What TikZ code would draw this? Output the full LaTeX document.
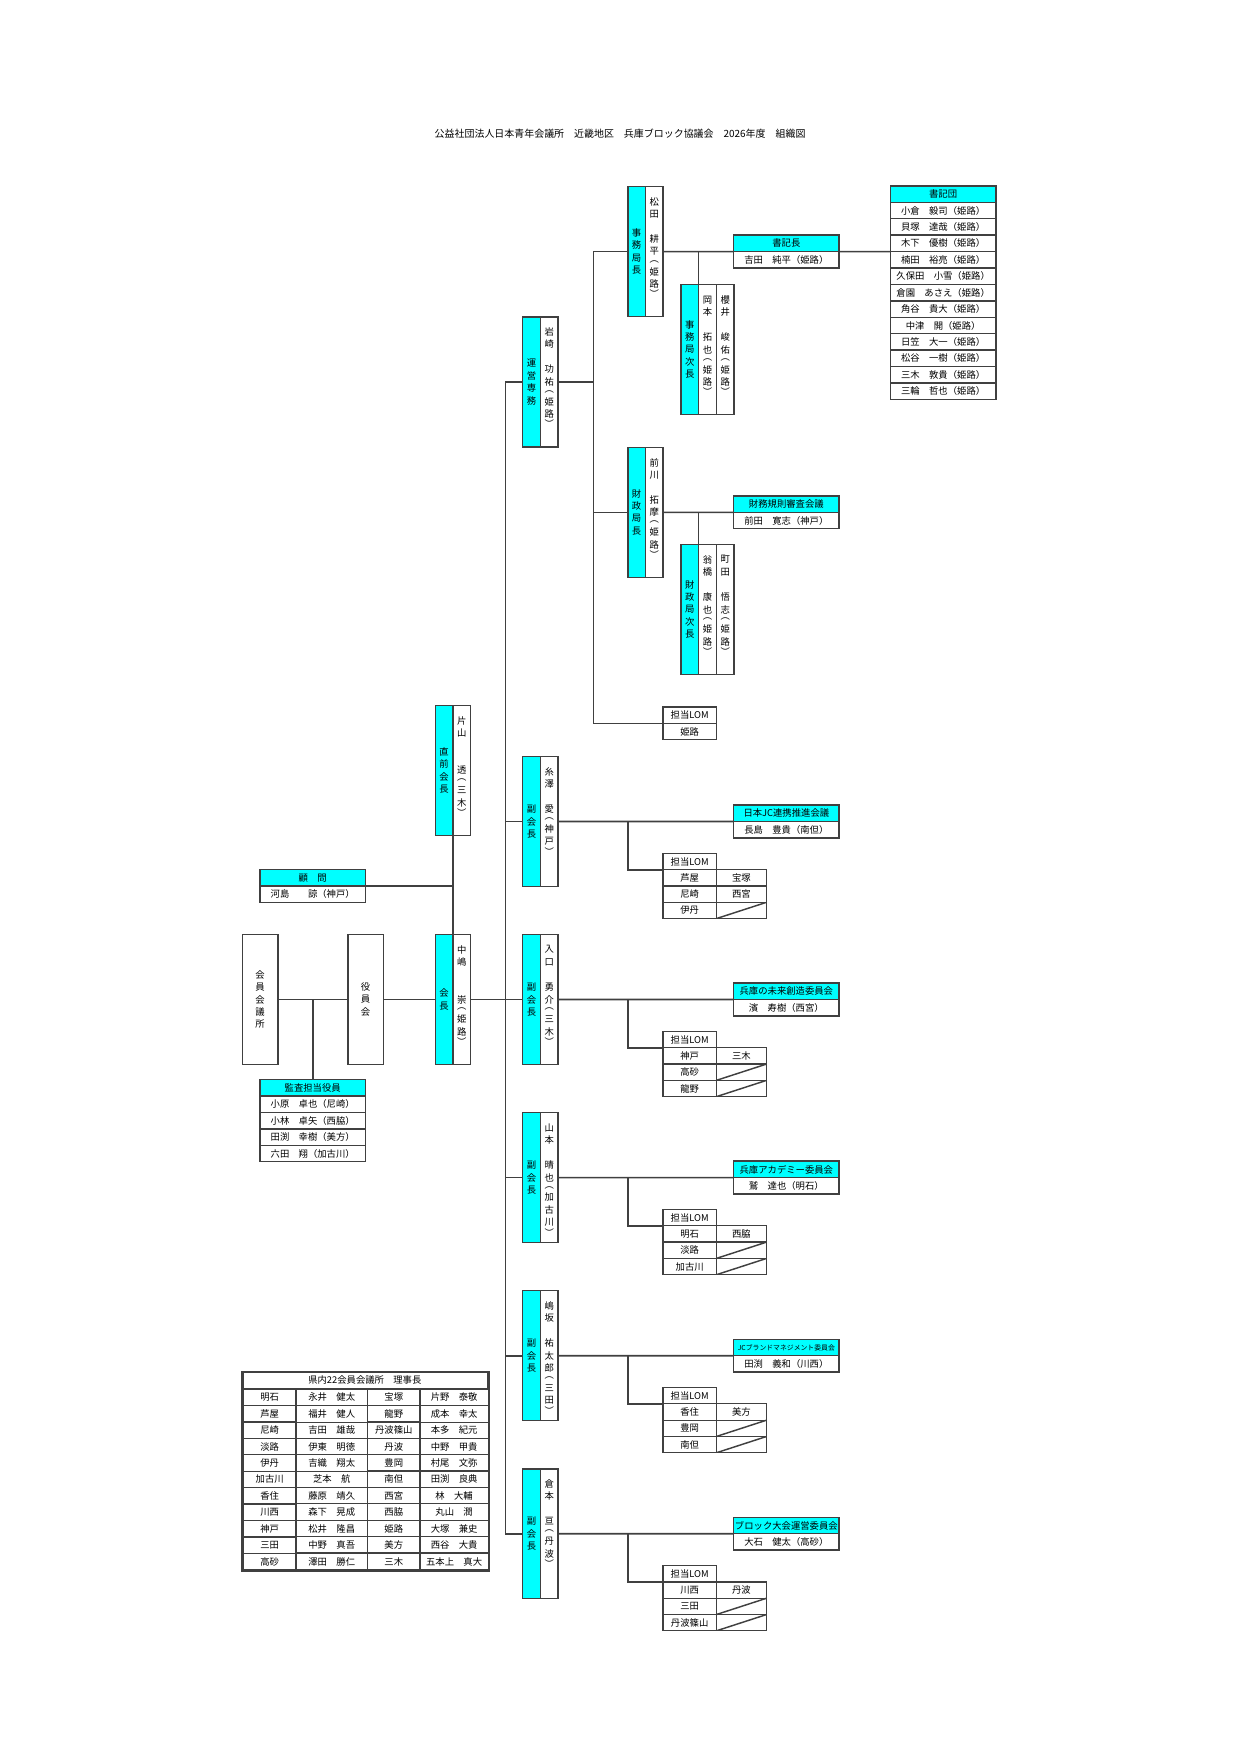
\documentclass[tikz,border=0pt]{standalone}
\usepackage{fontspec}
\setmainfont{Noto Sans CJK JP}
\usetikzlibrary{positioning, matrix}
\definecolor{boxcyan}{RGB}{0,255,255}
\definecolor{linegray}{RGB}{64,64,64}

% vertical (tate) text: one character per slot
\makeatletter
\newlength\tatestep \tatestep=6pt
\newcommand\tate[1]{\vbox{\offinterlineskip\expandafter\tate@i#1\@nil}}
\def\tate@i#1{\ifx\@nil#1\else\tate@box{#1}\expandafter\tate@i\fi}
\def\tate@open{︵}\def\tate@close{︶}
\def\tate@box#1{\def\tate@c{#1}%
  \dimen@=\tatestep
  \ifx\tate@c\tate@open\dimen@=.6\tatestep\fi
  \ifx\tate@c\tate@close\dimen@=.6\tatestep\fi
  \hbox to 6pt{\hss\vbox to\dimen@{\vss\hbox{#1}\vss}\hss}}
\newcommand\tatetop[1]{\vbox to 22mm{\vskip1.5mm\tate{#1}\vss}}
\makeatother

\begin{document}
\begin{tikzpicture}[x=1mm, y=-1mm,
    font=\fontsize{4.5}{5.5}\selectfont,
    lab/.style={draw=linegray, line width=0.7pt, fill=boxcyan, minimum width=3mm, minimum height=22mm, inner sep=0pt, outer sep=0pt},
    nam/.style={lab, fill=white},
    hd/.style={draw=linegray, line width=0.7pt, fill=boxcyan, minimum width=17.9mm, minimum height=2.78mm, inner sep=0pt, outer sep=0pt},
    rw/.style={hd, fill=white},
    cell/.style={draw=linegray, line width=0.6pt, fill=white, minimum height=2.76mm, inner sep=0pt, outer sep=0pt},
    slashline/.style={draw=linegray, line width=0.7pt},
    slash/.style={path picture={\draw[slashline] (path picture bounding box.south west) -- (path picture bounding box.north east);}},
    conn/.style={draw=linegray, line width=0.8pt}]

    \useasboundingbox (0,0) rectangle (210,297);

    % Title
    \node (title) at (105,22.6) {\fontsize{4.8}{5.5}\selectfont 公益社団法人日本青年会議所　近畿地区　兵庫ブロック協議会　2026年度　組織図};

    % 運営専務
    \node[lab] (unei-l) at (90.0,64.65) {\tate{運営専務}};
    \node[nam, right=0pt of unei-l] (unei-n) {\tatetop{岩崎　功祐︵姫路︶}};

    % 事務局長 / 事務局次長
    \node[lab] (jmk-l) at (107.8,42.6) {\tate{事務局長}};
    \node[nam, right=0pt of jmk-l] (jmk-n) {\tatetop{松田　耕平︵姫路︶}};
    \node[lab] (jmkj-l) at (116.8,59.2) {\tate{事務局次長}};
    \node[nam, right=0pt of jmkj-l] (jmkj-a) {\tatetop{岡本　拓也︵姫路︶}};
    \node[nam, right=0pt of jmkj-a] (jmkj-b) {\tatetop{櫻井　峻佑︵姫路︶}};

    % 書記長 / 書記団
    \node[hd] (shoki-h) at (133.15,41.21) {書記長};
    \node[rw, below=0pt of shoki-h] (shoki-b) {吉田　純平（姫路）};
    \node[hd] (sd-h) at (159.7,32.87) {書記団};
    \foreach \p [count=\i] in {小倉　毅司（姫路）, 貝塚　達哉（姫路）, 木下　優樹（姫路）, 楠田　裕亮（姫路）,
        久保田　小雪（姫路）, 倉園　あさえ（姫路）, 角谷　貴大（姫路）, 中津　開（姫路）,
        日笠　大一（姫路）, 松谷　一樹（姫路）, 三木　敦貴（姫路）, 三輪　哲也（姫路）}
        \node[rw] (sd-\i) at (159.7,32.87+2.78*\i) {\p};

    % 財政局長 / 財政局次長
    \node[lab] (zai-l) at (107.8,86.75) {\tate{財政局長}};
    \node[nam, right=0pt of zai-l] (zai-n) {\tatetop{前川　拓摩︵姫路︶}};
    \node[lab] (zaij-l) at (116.8,103.2) {\tate{財政局次長}};
    \node[nam, right=0pt of zaij-l] (zaij-a) {\tatetop{翁橋　康也︵姫路︶}};
    \node[nam, right=0pt of zaij-a] (zaij-b) {\tatetop{町田　悟志︵姫路︶}};
    \node[hd] (zaiki-h) at (133.15,85.36) {財務規則審査会議};
    \node[rw, below=0pt of zaiki-h] (zaiki-b) {前田　寛志（神戸）};

    % 担当LOM (運営専務)
    \node[cell, minimum width=9.05mm] (lom0-h) at (116.78,121.1) {担当LOM};
    \node[cell, minimum width=9.05mm, below=0pt of lom0-h] (lom0-b) {姫路};

    % 直前会長 / 顧問 / 会長
    \node[lab] (choku-l) at (75.2,130.45) {\tate{直前会長}};
    \node[nam, right=0pt of choku-l] (choku-n) {\tatetop{片山　　透︵三木︶}};
    \node[hd] (komon-h) at (52.95,148.61) {顧　問};
    \node[rw, below=0pt of komon-h] (komon-b) {河島　　諒（神戸）};
    \node[lab] (kaicho-l) at (75.2,169.25) {\tate{会長}};
    \node[nam, right=0pt of kaicho-l] (kaicho-n) {\tatetop{中嶋　　崇︵姫路︶}};

    % 役員会 / 会員会議所 / 監査担当役員
    \node[nam, minimum width=6mm] (yakuin) at (61.9,169.25) {\tate{役員会}};
    \node[nam, minimum width=6mm] (kaiin) at (44.05,169.25) {\tate{会員会議所}};
    \node[hd] (kansa-h) at (52.95,184.19) {監査担当役員};
    \foreach \p [count=\i] in {小原　卓也（尼崎）, 小林　卓矢（西脇）, 田渕　幸樹（美方）, 六田　翔（加古川）}
        \node[rw] (kansa-\i) at (52.95,184.19+2.78*\i) {\p};

    % 副会長 with committee and LOM table
    \foreach \L/\la/\lb/\lc/\ra/\rb/\who/\cmt/\chair [count=\i] in {
        139.1/芦屋/尼崎/伊丹/宝塚/西宮/糸澤　愛︵神戸︶/日本JC連携推進会議/長島　豊貴（南但）,
        169.25/神戸/高砂/龍野/三木//入口　勇介︵三木︶/兵庫の未来創造委員会/濱　寿樹（西宮）,
        199.4/明石/淡路/加古川/西脇//山本　晴也︵加古川︶/兵庫アカデミー委員会/鷲　達也（明石）,
        229.55/香住/豊岡/南但/美方//嶋坂　祐太郎︵三田︶/{\fontsize{3.3}{4}\selectfont JCブランドマネジメント委員会}/田渕　義和（川西）,
        259.7/川西/三田/丹波篠山/丹波//倉本　亘︵丹波︶/ブロック大会運営委員会/大石　健太（高砂）}
    {
        \node[lab] (vp\i-l) at (90.0,\L) {\tate{副会長}};
        \node[nam, right=0pt of vp\i-l] (vp\i-n) {\tatetop{\who}};
        \node[hd] (cmt\i-h) at (133.15,\L-1.39) {\cmt};
        \node[rw, below=0pt of cmt\i-h] (cmt\i-b) {\chair};
        \node[cell, minimum width=9.05mm] (lom\i-h) at (116.78,\L+6.78) {担当LOM};
        \node[cell, minimum width=9.05mm, below=0pt of lom\i-h] (lom\i-1) {\la};
        \node[cell, minimum width=9.05mm, below=0pt of lom\i-1] (lom\i-2) {\lb};
        \node[cell, minimum width=9.05mm, below=0pt of lom\i-2] (lom\i-3) {\lc};
        \node[cell, minimum width=8.5mm, right=0pt of lom\i-1] (lom\i-1r) {\ra};
        \node[cell, minimum width=8.5mm, right=0pt of lom\i-2] (lom\i-2r) {\rb};
        \node[cell, slash, minimum width=8.5mm, right=0pt of lom\i-3] (lom\i-3r) {};
        \if\relax\detokenize\expandafter{\rb}\relax
            \draw[slashline] (lom\i-2r.south west) -- (lom\i-2r.north east);
        \fi
        % connectors
        \draw[conn] (vp\i-l.west) -- ++(-2.9,0);
        \draw[conn] (vp\i-n.east) -- (cmt\i-b.north west);
        \coordinate (br\i) at (106.3,\L);
        \draw[conn] (br\i) |- (lom\i-1.north west);
    }

    % 県内22会員会議所 理事長
    \node[cell, minimum width=41.45mm, anchor=north west] (riji-h) at (41.05,232.3) {県内22会員会議所　理事長};
    \matrix[matrix of nodes, nodes={cell}, row sep=-0.6pt, column sep=-0.6pt, inner sep=0pt,
            column 1/.style={nodes={minimum width=8.9mm}},
            column 2/.style={nodes={minimum width=12.1mm}},
            column 3/.style={nodes={minimum width=8.9mm}},
            column 4/.style={nodes={minimum width=11.55mm}},
            anchor=north west] (riji) at (riji-h.south west) {
        明石 & 永井　健太 & 宝塚 & 片野　泰敬 \\
        芦屋 & 福井　健人 & 龍野 & 成本　幸太 \\
        尼崎 & 吉田　雄哉 & 丹波篠山 & 本多　紀元 \\
        淡路 & 伊東　明徳 & 丹波 & 中野　甲貴 \\
        伊丹 & 吉織　翔太 & 豊岡 & 村尾　文弥 \\
        加古川 & 芝本　航 & 南但 & 田渕　良典 \\
        香住 & 藤原　靖久 & 西宮 & 林　大輔 \\
        川西 & 森下　晃成 & 西脇 & 丸山　潤 \\
        神戸 & 松井　隆昌 & 姫路 & 大塚　兼史 \\
        三田 & 中野　真吾 & 美方 & 西谷　大貴 \\
        高砂 & 澤田　勝仁 & 三木 & 五本上　真大 \\
    };
    \draw[linegray, line width=1.1pt] (riji-h.north west) rectangle (riji.south east);

    % Connectors
    \draw[conn] (unei-l.west) -- ++(-2.9,0) |- (vp5-l.west);
    \draw[conn] (unei-n.east) -- ++(6,0);
    \draw[conn] (jmk-l.west) -- ++(-5.8,0) |- (lom0-b.north west);
    \draw[conn] (zai-l.west) -- ++(-5.8,0);
    \draw[conn] (jmk-n.east) -- (shoki-h.south west);
    \draw[conn] (shoki-h.south east) -- (sd-4.north west);
    \draw[conn] (jmkj-a.north west) -- (jmkj-a.north west |- jmk-n.east);
    \draw[conn] (zai-n.east) -- (zaiki-h.south west);
    \draw[conn] (zaij-a.north west) -- (zaij-a.north west |- zai-n.east);
    \draw[conn] (choku-l.south east) -- (kaicho-l.north east);
    \draw[conn] (komon-h.south east) -- (komon-h.south east -| choku-l.south east);
    \draw[conn] (kaicho-n.east) -- (vp2-l.west);
    \draw[conn] (kaicho-l.west) -- (yakuin.east);
    \draw[conn] (yakuin.west) -- (kaiin.east);
    \draw[conn] (kansa-h.north) -- (kansa-h.north |- kaiin.east);
\end{tikzpicture}
\end{document}
